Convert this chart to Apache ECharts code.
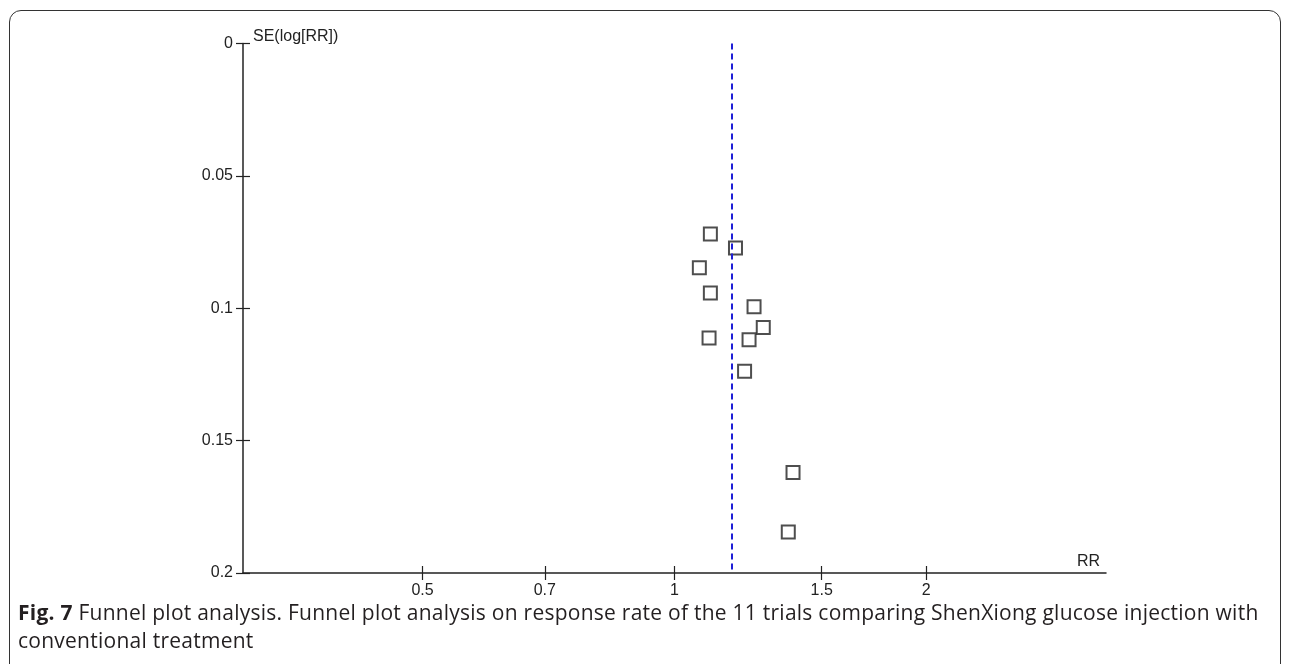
<!DOCTYPE html>
<html>
<head>
<meta charset="utf-8">
<script src="https://cdn.jsdelivr.net/npm/echarts@6/dist/echarts.min.js"></script>
<style>
  html, body { margin: 0; padding: 0; background: #fff; }
  #wrap { position: relative; width: 1290px; height: 664px; overflow: hidden; }
  #chart { position: absolute; left: 0; top: 0; width: 1290px; height: 664px; }
  #frame {
    position: absolute; left: 9px; top: 10px; width: 1272px; height: 720px;
    border: 1.5px solid #333; border-radius: 12px; box-sizing: border-box;
  }
  #caption {
    position: absolute; left: 18px; top: 598px; width: 1265px;
    font-family: "Open Sans", sans-serif;
    font-size: 21px; line-height: 28px; letter-spacing: 0.25px; color: #231f20;
    white-space: nowrap;
  }
  #caption b { font-weight: bold; }
</style>
</head>
<body>
<div id="wrap">
  <div id="chart"></div>
  <div id="frame"></div>
  <div id="caption"><b>Fig. 7</b> Funnel plot analysis. Funnel plot analysis on response rate of the 11 trials comparing ShenXiong glucose injection with<br>conventional treatment</div>
</div>
<script>
// Risk ratio of each trial and the standard error of its log risk ratio
const rrValues = [1.104, 1.183, 1.071, 1.104, 1.245, 1.277, 1.100, 1.228, 1.213, 1.386, 1.368];
const seValues = [0.0720, 0.0772, 0.0847, 0.0942, 0.0994, 0.1073, 0.1112, 0.1119, 0.1238, 0.1620, 0.1845];
// Pooled risk ratio (dashed reference line)
const pooledRR = 1.167;
// Axis ticks
const rrTicks = [0.5, 0.7, 1, 1.5, 2];
const seTicks = [0, 0.05, 0.1, 0.15, 0.2];

const points = rrValues.map((rr, i) => [rr, seValues[i]]);

const axisColor = '#222';
const labelFont = { fontFamily: 'Liberation Sans, Arial, sans-serif', fontSize: 16, color: '#222' };

const xCommon = {
  type: 'log',
  logBase: 10,
  min: 0.305,
  max: 3.28,
  splitLine: { show: false },
  minorTick: { show: false }
};
const yCommon = {
  type: 'value',
  inverse: true,
  min: 0,
  max: 0.2,
  interval: 0.05,
  splitLine: { show: false }
};

const chart = echarts.init(document.getElementById('chart'), null, { renderer: 'canvas' });
chart.setOption({
  animation: false,
  grid: { left: 243, top: 43.5, right: 184, bottom: 91 },
  xAxis: [
    Object.assign({}, xCommon, {
      position: 'bottom',
      axisLine: { show: true, onZero: false, lineStyle: { color: axisColor, width: 1.5 } },
      axisTick: { show: true, inside: false, length: 7, customValues: rrTicks, lineStyle: { color: axisColor, width: 1.2 } },
      axisLabel: { show: true, customValues: rrTicks, margin: 10, formatter: v => String(v), ...labelFont },
      name: 'RR',
      nameLocation: 'end',
      nameGap: -2,
      nameTextStyle: { ...labelFont, align: 'right', verticalAlign: 'bottom', padding: [0, 4, 3, 0] }
    }),
    Object.assign({}, xCommon, {
      position: 'bottom',
      axisLine: { show: false, onZero: false },
      axisTick: { show: true, inside: true, length: 7, customValues: rrTicks, lineStyle: { color: axisColor, width: 1.2 } },
      axisLabel: { show: false }
    })
  ],
  yAxis: [
    Object.assign({}, yCommon, {
      position: 'left',
      axisLine: { show: true, onZero: false, lineStyle: { color: axisColor, width: 1.5 } },
      axisTick: { show: true, inside: false, length: 7, lineStyle: { color: axisColor, width: 1.2 } },
      axisLabel: {
        show: true, margin: 10,
        formatter: v => seTicks.includes(+v.toFixed(2)) ? String(+v.toFixed(2)) : '',
        ...labelFont
      },
      name: 'SE(log[RR])',
      nameLocation: 'start',
      nameGap: 7,
      nameTextStyle: { ...labelFont, align: 'left', verticalAlign: 'middle', padding: [0, 0, 0, 10] }
    }),
    Object.assign({}, yCommon, {
      position: 'left',
      axisLine: { show: false, onZero: false },
      axisTick: { show: true, inside: true, length: 7, lineStyle: { color: axisColor, width: 1.2 } },
      axisLabel: { show: false }
    })
  ],
  series: [{
    type: 'scatter',
    xAxisIndex: 0,
    yAxisIndex: 0,
    data: points,
    symbol: 'rect',
    symbolSize: 13,
    itemStyle: { color: 'rgba(255,255,255,0)', borderColor: '#222', borderWidth: 2 },
    markLine: {
      silent: true,
      symbol: 'none',
      label: { show: false },
      lineStyle: { color: '#1f1fd6', width: 2, type: [6, 4] },
      data: [{ xAxis: pooledRR }]
    }
  }]
});
</script>
</body>
</html>
